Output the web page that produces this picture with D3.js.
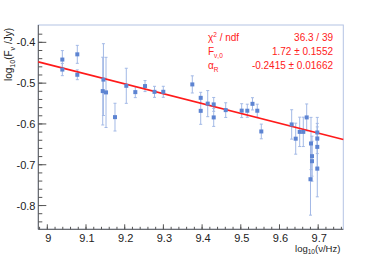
<!DOCTYPE html>
<html>
<head>
<meta charset="utf-8">
<script src="https://cdn.jsdelivr.net/npm/d3@7"></script>
<style>
  html, body { margin: 0; padding: 0; background: #fff; }
  svg { display: block; font-family: "Liberation Sans", Arial, sans-serif; }
</style>
</head>
<body>
<svg id="chart" width="382" height="259"></svg>
<script>
// log10(nu/Hz), log10(F/Jy), error on log10(F)
const logNu = [
  9.0388, 9.0388, 9.0775, 9.0775, 9.1450, 9.1432, 9.1517, 9.1749, 9.2041, 9.2274,
  9.2525, 9.2770, 9.2997, 9.3747, 9.3964, 9.3964, 9.4145, 9.4300, 9.4300, 9.4610,
  9.5023, 9.5168, 9.5302, 9.5426, 9.5530, 9.6315, 9.6419, 9.6522, 9.6615, 9.6703,
  9.6814, 9.6840, 9.6840, 9.6801, 9.6977, 9.6977, 9.6977, 9.6977
]
const logF = [
  -0.4422, -0.4667, -0.4294, -0.4795, -0.4913, -0.5195, -0.5227, -0.5833, -0.5065, -0.5220,
  -0.5072, -0.5213, -0.5212, -0.5031, -0.5360, -0.5679, -0.5502, -0.5521, -0.5840, -0.5661,
  -0.5674, -0.5676, -0.5507, -0.5676, -0.6184, -0.6012, -0.6361, -0.6194, -0.6194, -0.5840,
  -0.6479, -0.6790, -0.6913, -0.7355, -0.6209, -0.6356, -0.6562, -0.7096
]
const logFErr = [
  0.022, 0.015, 0.022, 0.012, 0.088, 0.083, 0.086, 0.034, 0.043, 0.0135,
  0.0135, 0.0135, 0.0135, 0.021, 0.0135, 0.033, 0.032, 0.017, 0.022, 0.018,
  0.017, 0.016, 0.015, 0.016, 0.018, 0.036, 0.038, 0.036, 0.036, 0.033,
  0.064, 0.049, 0.049, 0.088, 0.037, 0.037, 0.049, 0.069
]

// fit: log10 F = F0 + alpha * log10 nu
const fitF0 = 1.72
const fitAlpha = -0.2415

const xTicks = [9, 9.1, 9.2, 9.3, 9.4, 9.5, 9.6, 9.7]
const yTicks = [-0.4, -0.5, -0.6, -0.7, -0.8]

const statValues = ["36.3 / 39", "1.72 ± 0.1552", "-0.2415 ± 0.01662"]

const svg = d3.select("#chart")
const L = 38.3, T = 25, R = 343.3, B = 229.3

const x = d3.scaleLinear().domain([8.9767, 9.7649]).range([L, R])
const y = d3.scaleLinear().domain([-0.8582, -0.3575]).range([B, T])

const axisCol = "#555"
const markCol = "#5d84d2"
const barCol = "#a3b9e6"

// frame (top/right light)
svg.append("rect")
  .attr("x", L).attr("y", T).attr("width", R - L).attr("height", B - T)
  .attr("fill", "none").attr("stroke", "#b4c4e4").attr("stroke-width", 1)

// minor ticks
const xMinor = d3.range(8.98, 9.765, 0.02)
const yMinor = d3.range(-0.84, -0.36, 0.02)

const gx = svg.append("g")
gx.append("line").attr("x1", L).attr("x2", R).attr("y1", B).attr("y2", B)
  .attr("stroke", axisCol)
gx.selectAll("line.minor").data(xMinor).join("line").attr("class", "minor")
  .attr("x1", d => x(d)).attr("x2", d => x(d))
  .attr("y1", B).attr("y2", B - 2.5)
  .attr("stroke", axisCol)
gx.selectAll("line.major").data(xTicks).join("line").attr("class", "major")
  .attr("x1", d => x(d)).attr("x2", d => x(d))
  .attr("y1", B).attr("y2", B - 5)
  .attr("stroke", axisCol)
gx.selectAll("text").data(xTicks).join("text")
  .attr("x", d => x(d) + 1).attr("y", 242)
  .attr("text-anchor", "middle")
  .attr("font-size", 11).attr("fill", "#222")
  .text(d => d3.format("")(d))

const gy = svg.append("g")
gy.append("line").attr("x1", L).attr("x2", L).attr("y1", T).attr("y2", B)
  .attr("stroke", axisCol)
gy.selectAll("line.minor").data(yMinor).join("line").attr("class", "minor")
  .attr("x1", L).attr("x2", L + 4)
  .attr("y1", d => y(d)).attr("y2", d => y(d))
  .attr("stroke", axisCol)
gy.selectAll("line.major").data(yTicks).join("line").attr("class", "major")
  .attr("x1", L).attr("x2", L + 8)
  .attr("y1", d => y(d)).attr("y2", d => y(d))
  .attr("stroke", axisCol)
gy.selectAll("text").data(yTicks).join("text")
  .attr("x", 35.5).attr("y", d => y(d) + 4)
  .attr("text-anchor", "end")
  .attr("font-size", 11).attr("fill", "#222")
  .text(d => d3.format(".1f")(d).replace("−", "-"))

// axis titles
const yt = svg.append("text")
  .attr("transform", `translate(12,${T + 3}) rotate(-90)`)
  .attr("text-anchor", "end")
  .attr("font-size", 10).attr("fill", "#222")
yt.append("tspan").text("log")
yt.append("tspan").attr("font-size", 7).attr("dy", 3).text("10")
yt.append("tspan").attr("dy", -3).text("(F")
yt.append("tspan").attr("font-size", 7).attr("dy", 3).text("ν")
yt.append("tspan").attr("dy", -3).text(" /Jy)")

const xt = svg.append("text")
  .attr("x", R - 3).attr("y", 251.5)
  .attr("text-anchor", "end")
  .attr("font-size", 9.5).attr("fill", "#222")
xt.append("tspan").text("log")
xt.append("tspan").attr("font-size", 6.5).attr("dy", 2.5).text("10")
xt.append("tspan").attr("dy", -2.5).text("(ν/Hz)")

// error bars
const pts = logNu.map((v, i) => ({ x: v, y: logF[i], e: logFErr[i] }))
const gErr = svg.append("g").attr("stroke", barCol).attr("stroke-width", 1)
gErr.selectAll("line.bar").data(pts).join("line").attr("class", "bar")
  .attr("x1", d => x(d.x)).attr("x2", d => x(d.x))
  .attr("y1", d => y(d.y + d.e)).attr("y2", d => y(d.y - d.e))
gErr.selectAll("line.capT").data(pts).join("line").attr("class", "capT")
  .attr("x1", d => x(d.x) - 1.5).attr("x2", d => x(d.x) + 1.5)
  .attr("y1", d => y(d.y + d.e)).attr("y2", d => y(d.y + d.e))
gErr.selectAll("line.capB").data(pts).join("line").attr("class", "capB")
  .attr("x1", d => x(d.x) - 1.5).attr("x2", d => x(d.x) + 1.5)
  .attr("y1", d => y(d.y - d.e)).attr("y2", d => y(d.y - d.e))

// fit line
const fitX = x.domain()
svg.append("line")
  .attr("x1", x(fitX[0])).attr("y1", y(fitF0 + fitAlpha * fitX[0]))
  .attr("x2", x(fitX[1])).attr("y2", y(fitF0 + fitAlpha * fitX[1]))
  .attr("stroke", "#ff1a1a").attr("stroke-width", 1.6)

// markers
svg.append("g").selectAll("rect").data(pts).join("rect")
  .attr("x", d => x(d.x) - 2).attr("y", d => y(d.y) - 2)
  .attr("width", 4).attr("height", 4)
  .attr("fill", markCol)

// stats box
const statY = [38, 52, 66]
const gs = svg.append("g").attr("fill", "#ff2020").attr("font-size", 10)
statY.forEach((sy, i) => {
  const t = gs.append("text").attr("x", 208).attr("y", sy + 3)
  if (i === 0) {
    t.append("tspan").text("χ")
    t.append("tspan").attr("font-size", 6.5).attr("dy", -4).text("2")
    t.append("tspan").attr("dy", 4).text(" / ndf")
  } else if (i === 1) {
    t.append("tspan").text("F")
    t.append("tspan").attr("font-size", 6.5).attr("dy", 3).text("ν,0")
  } else {
    t.append("tspan").text("α")
    t.append("tspan").attr("font-size", 6.5).attr("dy", 3).text("R")
  }
  gs.append("text").attr("x", 333).attr("y", sy + 3)
    .attr("text-anchor", "end").text(statValues[i])
})
</script>
</body>
</html>
